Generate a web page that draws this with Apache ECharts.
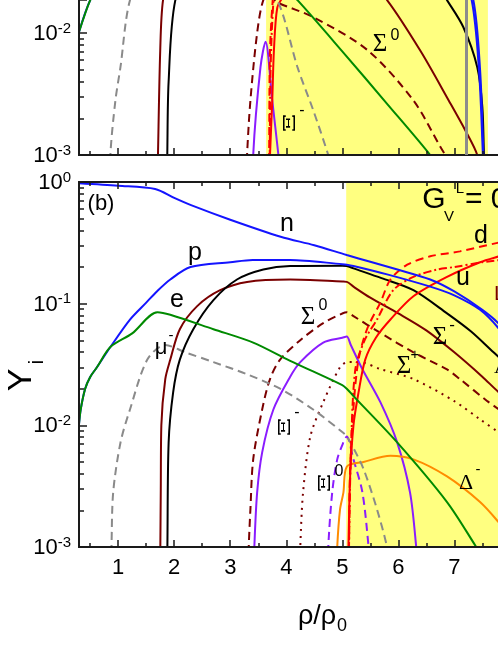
<!DOCTYPE html>
<html><head><meta charset="utf-8">
<script src="https://cdn.jsdelivr.net/npm/echarts@6/dist/echarts.min.js"></script>
<style>html,body{margin:0;padding:0;background:#fff}#c{width:498px;height:645px}</style>
</head><body><div id="c"></div><script>
// ---------- axis ranges & tick labels ----------
const xRange = [0.3, 7.78];
const xTickLabels = [1, 2, 3, 4, 5, 6, 7];
const xMinorTicks = [0.5, 1.5, 2.5, 3.5, 4.5, 5.5, 6.5, 7.5];
const yMinorMultipliers = [2, 3, 4, 5, 6, 7, 8, 9];
// visible y ranges: panel (a) is cut by the page top
const yRangeA = [0.001, 0.01865];
const yRangeB = [0.001, 1];

// ---------- shaded (mixed phase) ranges ----------
const shadeA = [3.64, 7.6];
const shadeB = [5.07, 7.78];
const greyLineA = [7.21];

// ---------- panel (a) : [rho/rho0, Y_i] ----------
const nA   = [[0.3,0.97],[2,0.75],[4,0.4],[6,0.2],[7.0,0.06],[7.34,0.0186],[7.46,0.005],[7.52,0.001],[7.53,0.0006]];
const pA   = [[0.3,0.0102],[0.5,0.0186],[1.0,0.05],[2,0.15],[4,0.2],[6,0.15],[7.0,0.05],[7.31,0.0186],[7.44,0.005],[7.51,0.001],[7.52,0.0006]];
const eA   = [[0.3,0.0102],[0.5,0.0186],[0.8,0.0355],[1.2,0.0562],[1.7,0.085],[2.5,0.066],[3.2,0.0447],[3.7,0.0316],[4.2,0.0186],[5.0,0.00708],[5.8,0.00263],[6.57,0.001],[6.7,0.00079]];
const muA  = [[0.855,0.0007],[0.86,0.001],[0.95,0.0028],[1.04,0.00525],[1.21,0.0186],[1.5,0.032],[2.5,0.032],[3.5,0.025],[3.84,0.0186],[4.2,0.00525],[4.48,0.00234],[4.75,0.001],[4.8,0.0008]];
const sigmA= [[1.705,0.0007],[1.71,0.001],[1.75,0.0072],[1.8,0.0186],[2.0,0.05],[3.0,0.12],[4.0,0.12],[5.0,0.05],[5.8,0.0186],[6.4,0.00708],[6.9,0.0028],[7.2,0.00158],[7.41,0.001],[7.45,0.0007]];
const lamA = [[1.872,0.0007],[1.876,0.001],[1.9,0.004],[2.02,0.0186],[2.5,0.08],[4,0.2],[6,0.08],[6.87,0.0186],[7.16,0.0112],[7.41,0.00525],[7.5,0.0025],[7.53,0.001],[7.55,0.0007]];
const sig0A= [[3.295,0.0007],[3.3,0.001],[3.36,0.0028],[3.48,0.01],[3.59,0.0186],[3.7,0.02],[3.84,0.0178],[4.48,0.0135],[5.45,0.00724],[6.27,0.0028],[6.75,0.00117],[6.84,0.001],[6.9,0.0009]];
const ximA = [[3.405,0.0007],[3.41,0.001],[3.54,0.00525],[3.63,0.0085],[3.75,0.0028],[3.86,0.001],[3.88,0.0008]];
const uA   = [[3.705,0.0007],[3.71,0.001],[3.75,0.0028],[3.78,0.00724],[3.84,0.0162],[3.95,0.02],[4.5,0.05],[6,0.2],[7.5,0.3]];
const dA   = [[3.69,0.0007],[3.695,0.001],[3.70,0.0032],[3.71,0.00724],[3.75,0.0162],[3.8,0.025],[4.2,0.063],[6,0.3]];
const sA   = [[3.7,0.0007],[3.705,0.001],[3.72,0.005],[3.77,0.0178],[3.85,0.0316],[4.5,0.1],[6,0.25]];

// ---------- panel (b) ----------
const nB   = [[0.3,0.977],[1.0,0.933],[1.66,0.877],[2.0,0.741],[2.3,0.646],[3.0,0.490],[3.9,0.355],[4.5,0.302],[5.08,0.251],[5.5,0.221],[6.0,0.19],[6.57,0.158],[7.0,0.126],[7.5,0.089],[7.8,0.068],[8.0,0.05]];
const pB   = [[0.3,0.0102],[0.33,0.0135],[0.41,0.020],[0.5,0.025],[0.62,0.030],[0.86,0.044],[1.21,0.074],[1.5,0.102],[1.69,0.126],[1.93,0.158],[2.29,0.20],[3.0,0.219],[3.4,0.229],[4.07,0.229],[5.0,0.211],[5.08,0.209],[5.2,0.204],[5.8,0.174],[6.57,0.138],[7.0,0.117],[7.46,0.089],[7.8,0.062],[8.0,0.045]];
const eB   = [[0.3,0.0102],[0.33,0.0135],[0.41,0.020],[0.5,0.025],[0.62,0.030],[0.86,0.044],[1.25,0.057],[1.7,0.085],[1.93,0.081],[2.7,0.0617],[3.41,0.0479],[4.07,0.0339],[5.0,0.0214],[5.08,0.020],[5.2,0.0174],[5.98,0.00724],[6.87,0.00234],[7.38,0.00102],[7.6,0.0007]];
const muB  = [[0.875,0.0007],[0.88,0.001],[0.91,0.0028],[1.04,0.0072],[1.21,0.0135],[1.52,0.0347],[1.84,0.0457],[2.2,0.0398],[2.7,0.0331],[3.3,0.0263],[3.89,0.020],[4.48,0.0135],[5.0,0.0088],[5.08,0.0081],[5.2,0.0065],[5.38,0.00437],[5.62,0.00204],[5.8,0.001],[5.85,0.0007]];
const sigmB= [[1.748,0.0007],[1.752,0.001],[1.76,0.003],[1.77,0.01],[1.84,0.024],[1.93,0.0347],[2.1,0.0617],[2.41,0.0955],[2.82,0.129],[3.3,0.151],[4.07,0.158],[5.0,0.152],[5.08,0.151],[5.2,0.138],[5.5,0.112],[6.0,0.0832],[6.5,0.0603],[7.0,0.0398],[7.5,0.0251],[7.8,0.0186],[8.0,0.016]];
const lamB = [[1.873,0.0007],[1.878,0.001],[1.9,0.0072],[1.98,0.0186],[2.1,0.0347],[2.34,0.0617],[2.7,0.107],[3.12,0.158],[3.59,0.191],[4.07,0.204],[5.0,0.205],[5.08,0.204],[5.2,0.195],[5.7,0.162],[6.27,0.129],[6.87,0.0832],[7.3,0.059],[7.7,0.0398],[8.0,0.03]];
const sig0B= [[3.325,0.0007],[3.33,0.001],[3.36,0.00204],[3.41,0.00525],[3.57,0.0135],[3.71,0.024],[3.89,0.0347],[4.25,0.0501],[4.66,0.0692],[5.0,0.083],[5.08,0.0851],[5.2,0.079],[5.68,0.0575],[6.27,0.0398],[6.87,0.0288],[7.1,0.024],[7.59,0.0158],[7.8,0.0135],[8.0,0.0115]];
const sigpB= [[4.245,0.0007],[4.25,0.001],[4.3,0.0028],[4.43,0.0081],[4.66,0.0155],[4.96,0.030],[5.1,0.0331],[5.3,0.0331],[5.7,0.0288],[6.27,0.024],[7.0,0.0158],[7.46,0.0112],[7.8,0.0087],[8.0,0.0075]];
const ximB = [[3.425,0.0007],[3.43,0.001],[3.48,0.0028],[3.57,0.006],[3.77,0.0135],[4.07,0.0251],[4.25,0.0331],[4.66,0.0479],[5.0,0.0525],[5.08,0.0537],[5.15,0.046],[5.35,0.0295],[5.68,0.0155],[5.98,0.00724],[6.21,0.0028],[6.32,0.001],[6.34,0.0007]];
const xi0B = [[4.745,0.0007],[4.75,0.001],[4.82,0.0028],[4.91,0.00525],[5.02,0.00724],[5.08,0.0081],[5.2,0.00525],[5.36,0.0028],[5.47,0.001],[5.49,0.0007]];
const delB = [[4.905,0.0007],[4.91,0.001],[4.96,0.00204],[5.02,0.0028],[5.08,0.00457],[5.38,0.005],[5.86,0.00562],[6.27,0.00525],[6.87,0.0038],[7.46,0.00234],[7.8,0.00158],[8.0,0.0012]];
const uB   = [[5.105,0.0007],[5.11,0.001],[5.14,0.0038],[5.2,0.01],[5.29,0.0186],[5.41,0.0347],[5.6,0.0525],[5.86,0.0741],[6.27,0.115],[6.87,0.166],[7.46,0.219],[7.8,0.245],[8.0,0.26]];
const dB   = [[5.115,0.0007],[5.12,0.001],[5.14,0.0044],[5.2,0.0141],[5.29,0.0347],[5.45,0.0631],[5.68,0.102],[5.86,0.158],[6.16,0.209],[6.57,0.245],[7.1,0.269],[7.77,0.316],[8.0,0.33]];
const sB   = [[5.115,0.0007],[5.12,0.001],[5.15,0.005],[5.23,0.0282],[5.4,0.0501],[5.62,0.0741],[5.91,0.129],[6.27,0.166],[6.7,0.191],[7.0,0.2],[7.5,0.219],[8.0,0.234]];

// ---------- styles ----------
const C = {blue:'#1414ff', green:'#008a00', grey:'#8a8a8a', dred:'#7a0000', black:'#000000',
           purple:'#8a1cff', orange:'#ff8c00', red:'#ff0000', yellow:'#ffff80', axis:'#1a1a1a'};
const DASH = [8, 5], DOT = [2, 5], DASHDOT = [8, 3, 2, 3];
const SANS = 'Liberation Sans', SERIF = 'Liberation Serif';

function minorLog(lo, hi) {
  const out = [];
  for (let d = -3; d < 0; d++) yMinorMultipliers.forEach(m => {
    const v = d + Math.log10(m); if (v >= lo && v <= hi) out.push(v);
  });
  return out;
}

function line(data, grid, color, type, width, z) {
  return {
    type: 'line', data: data, xAxisIndex: grid === 0 ? 0 : 2, yAxisIndex: grid === 0 ? 0 : 2,
    symbol: 'none', showSymbol: false, smooth: 0.3, clip: true,
    lineStyle: {color: color, width: width || 2, type: type || 'solid'},
    silent: true, animation: false, z: z || 2
  };
}

const series = [
  // panel a
  Object.assign(line([], 0, C.black), {markArea: {silent: true, itemStyle: {color: C.yellow},
      data: [[{xAxis: shadeA[0]}, {xAxis: shadeA[1]}]]}}),
  line(sig0A, 0, C.dred, DASH), line(ximA, 0, C.purple),
  line(sA, 0, C.red, DASHDOT), line(dA, 0, C.red, DASH), line(uA, 0, C.red),
  line(muA, 0, C.grey, DASH), line(sigmA, 0, C.dred), line(lamA, 0, C.black),
  line(pA, 0, C.blue), line(nA, 0, C.blue), line(eA, 0, C.green),
  Object.assign(line([], 0, C.grey), {markLine: {silent: true, symbol: ['none', 'none'], label: {show: false},
      lineStyle: {color: '#8c8c8c', width: 3, type: 'solid'}, data: [{xAxis: greyLineA[0]}]}}),
  // panel b
  Object.assign(line([], 1, C.black), {markArea: {silent: true, itemStyle: {color: C.yellow},
      data: [[{xAxis: shadeB[0]}, {xAxis: shadeB[1]}]]}}),
  line(sig0B, 1, C.dred, DASH), line(sigpB, 1, C.dred, DOT), line(ximB, 1, C.purple),
  line(xi0B, 1, C.purple, DASH), line(delB, 1, C.orange),
  line(muB, 1, C.grey, DASH), line(sigmB, 1, C.dred), line(lamB, 1, C.black),
  line(sB, 1, C.red, DASHDOT), line(dB, 1, C.red, DASH), line(uB, 1, C.red),
  line(pB, 1, C.blue), line(nB, 1, C.blue), line(eB, 1, C.green)
];

const axLine = {show: true, onZero: false, lineStyle: {color: C.axis, width: 2}};
function xAx(grid, pos, ticks, len, labels) {
  return {
    type: 'value', gridIndex: grid, position: pos, min: xRange[0], max: xRange[1], z: 4,
    axisLine: axLine, splitLine: {show: false},
    axisTick: {show: true, inside: true, length: len, customValues: ticks, lineStyle: {color: C.axis, width: 1.5}},
    axisLabel: labels ? {show: true, customValues: xTickLabels, margin: 10, color: '#000',
      fontSize: 22, fontFamily: SANS} : {show: false}
  };
}
const labelRich = {
  b: {fontSize: 22, fontFamily: SANS, color: '#000', verticalAlign: 'bottom', lineHeight: 24},
  s: {fontSize: 15, fontFamily: SANS, color: '#000', verticalAlign: 'top', lineHeight: 15}
};
function yLog(grid, range) {
  return {
    type: 'log', logBase: 10, gridIndex: grid, position: 'left', min: range[0], max: range[1], z: 4,
    axisLine: axLine, splitLine: {show: false},
    axisTick: {show: true, inside: true, length: 8, lineStyle: {color: C.axis, width: 1.5}},
    axisLabel: {show: true, margin: 8, rich: labelRich, formatter: v => {
      const e = Math.log10(v);
      return Math.abs(e - Math.round(e)) < 1e-6 ? '{b|10}{s|' + Math.round(e) + '}' : '';
    }}
  };
}
function yMinor(grid, range) {
  const lo = Math.log10(range[0]), hi = Math.log10(range[1]);
  return {
    type: 'value', gridIndex: grid, position: 'left', min: lo, max: hi, z: 4,
    axisLine: {show: false, onZero: false}, splitLine: {show: false}, axisLabel: {show: false},
    axisTick: {show: true, inside: true, length: 5, customValues: minorLog(lo, hi), lineStyle: {color: C.axis, width: 1.5}}
  };
}

function txt(x, y, text, size, family, color, rot, align) {
  return {type: 'text', x: x, y: y, rotation: rot || 0, z: 50, silent: true,
    style: {text: text, fontSize: size, fontFamily: family, fill: color || '#000',
            align: align || 'center', verticalAlign: 'middle'}};
}
function xiTxt(x, y) {
  const t = txt(x, y, 'Ξ', 22, 'DejaVu Serif', '#000', Math.PI / 2);
  t.scaleX = 1.2; t.scaleY = 0.72;
  return t;
}

const graphics = [
  // panel a labels
  txt(380, 44, 'Σ', 25, SERIF), txt(395, 36, '0', 16, SANS),
  xiTxt(291, 123), txt(302, 111, '-', 16, SANS),
  // panel b labels
  txt(101, 204, '(b)', 22, SANS),
  txt(287, 224, 'n', 25, SANS), txt(195, 253, 'p', 25, SANS), txt(177, 300, 'e', 25, SANS),
  txt(161, 348, 'μ', 22, SANS), txt(171, 336, '-', 15, SANS),
  txt(308, 317, 'Σ', 25, SERIF), txt(323, 306, '0', 16, SANS),
  txt(440, 337, 'Σ', 25, SERIF), txt(452, 325, '-', 17, SANS),
  txt(404, 366, 'Σ', 25, SERIF), txt(415, 355, '+', 15, SANS),
  xiTxt(286, 427), txt(297, 413, '-', 16, SANS),
  xiTxt(326, 483), txt(339, 472, '0', 16, SANS),
  txt(466, 483, 'Δ', 22, SERIF), txt(478, 470, '-', 15, SANS),
  txt(463, 278, 'u', 25, SANS), txt(481, 236, 'd', 25, SANS),
  txt(494, 367, 'Λ', 22, SERIF, '#000', 0, 'left'),
  txt(494, 294, 'L', 21, SANS, C.dred, 0, 'left'),
  txt(434, 200, 'G', 30, SANS), txt(449, 217, 'V', 15, SANS), txt(460, 189, 'L', 15, SANS),
  txt(465, 200, '= 0', 30, SANS, '#000', 0, 'left'),
  // axis titles
  txt(22, 380, 'Y', 34, SANS, '#000', Math.PI / 2), txt(37, 362, 'i', 20, SANS, '#000', Math.PI / 2),
  txt(317, 617, 'ρ/ρ', 27, SANS), txt(342, 626, '0', 18, SANS)
];

const chart = echarts.init(document.getElementById('c'), null, {renderer: 'canvas'});
chart.setOption({
  animation: false,
  backgroundColor: '#ffffff',
  grid: [
    {left: 79, top: 0, right: 0, height: 155, show: false},
    {left: 79, top: 182, right: 0, height: 365, show: false}
  ],
  xAxis: [
    xAx(0, 'bottom', xTickLabels, 7, false), xAx(0, 'bottom', xMinorTicks, 4, false),
    xAx(1, 'bottom', xTickLabels, 7, true), xAx(1, 'bottom', xMinorTicks, 4, false),
    xAx(1, 'top', xTickLabels, 7, false), xAx(1, 'top', xMinorTicks, 4, false)
  ],
  yAxis: [yLog(0, yRangeA), yMinor(0, yRangeA), yLog(1, yRangeB), yMinor(1, yRangeB)],
  series: series,
  graphic: graphics
});
</script></body></html>
